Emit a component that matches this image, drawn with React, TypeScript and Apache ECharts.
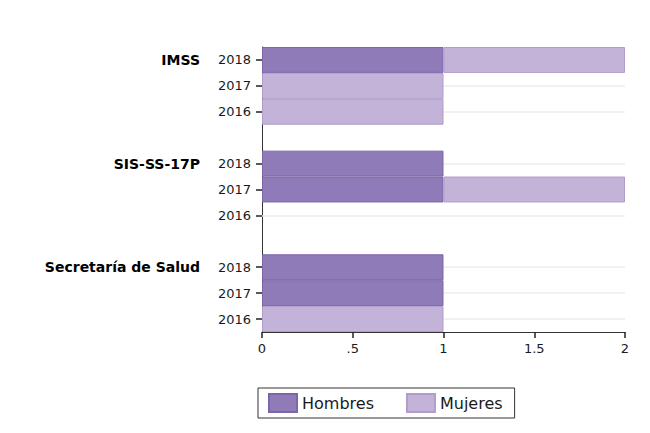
import React, { useEffect, useRef } from "react";
import * as echarts from "echarts";

const groups = ["IMSS", "SIS-SS-17P", "Secretaría de Salud"];
const years = ["2018", "2017", "2016"];
// values per group, in the order of years
const hombres = [
  [1, 0, 0],
  [1, 1, 0],
  [1, 1, 0],
];
const mujeres = [
  [1, 1, 1],
  [0, 1, 0],
  [0, 0, 1],
];
const xTicks = [0, 0.5, 1, 1.5, 2];
const xTickLabels = ["0", ".5", "1", "1.5", "2"];

export default function App() {
  const ref = useRef<HTMLDivElement>(null);
  useEffect(() => {
    if (!ref.current) return;
    const chart = echarts.init(ref.current, null, { renderer: "svg" });

    const cats: string[] = [];
    const hData: any[] = [];
    const mData: any[] = [];
    groups.forEach((g, gi) => {
      years.forEach((y, yi) => {
        cats.push(`${g}|${y}`);
        const h = hombres[gi][yi];
        const m = mujeres[gi][yi];
        hData.push(h === 0 ? "-" : h);
        mData.push(m === 0 ? "-" : m);
      });
      if (gi < groups.length - 1) {
        cats.push(`blank${gi}`);
        hData.push("-");
        mData.push("-");
      }
    });
    const labeledIdx = cats
      .map((c, i) => (c.startsWith("blank") ? -1 : i))
      .filter((i) => i >= 0);

    const font = "DejaVu Sans";
    chart.setOption({
      animation: false,
      textStyle: { fontFamily: font },
      grid: { left: 254, right: 25, top: 39, bottom: 101, containLabel: false },
      legend: {
        data: ["Hombres", "Mujeres"],
        icon: "rect",
        left: 250,
        top: 380,
        padding: [5, 12, 5, 10],
        itemWidth: 28,
        itemHeight: 18,
        itemGap: 32,
        borderColor: "#333",
        borderWidth: 1,
        textStyle: { fontSize: 16, color: "#1a1a1a", fontFamily: font },
        selectedMode: false,
      },
      xAxis: {
        type: "value",
        min: xTicks[0],
        max: xTicks[xTicks.length - 1],
        interval: 0.5,
        splitLine: { show: false },
        axisLine: { show: true, lineStyle: { color: "#333", width: 1 } },
        axisTick: { show: true, length: 6, lineStyle: { color: "#222", width: 1.5 } },
        axisLabel: {
          fontSize: 13,
          color: "#1a1a1a",
          margin: 10,
          formatter: (v: number) => {
            const i = xTicks.indexOf(v);
            return i >= 0 ? xTickLabels[i] : "";
          },
        },
      },
      yAxis: [
        {
          type: "category",
          inverse: true,
          data: cats,
          position: "left",
          axisLine: { show: true, lineStyle: { color: "#333", width: 1 } },
          axisTick: { show: false },
          splitLine: { show: false },
          axisLabel: {
            margin: 11,
            interval: 0,
            formatter: (v: string) => {
              if (v.startsWith("blank")) return "";
              const [g, y] = v.split("|");
              if (y === years[0]) return `{g|${g}}{y|${y}}`;
              return `{y|${y}}`;
            },
            rich: {
              g: { fontWeight: "bold", fontSize: 14, color: "#000", fontFamily: font },
              y: { width: 51, align: "right", fontSize: 13, color: "#1a1a1a", fontFamily: font },
            },
          },
        },
        {
          type: "category",
          inverse: true,
          data: cats,
          position: "left",
          offset: 0,
          axisLine: { show: false },
          axisLabel: { show: false },
          splitLine: { show: false },
          axisTick: {
            show: true,
            inside: false,
            length: 6,
            alignWithLabel: true,
            lineStyle: { color: "#222", width: 1.5 },
            interval: (idx: any, val: any) =>
              typeof val === "string"
                ? !val.startsWith("blank")
                : labeledIdx.indexOf(Number(idx)) >= 0,
          },
        },
      ],
      series: [
        {
          name: "grid",
          type: "line",
          data: [],
          z: 1,
          markLine: {
            z: 1,
            silent: true,
            symbol: "none",
            label: { show: false },
            lineStyle: { color: "#e8eeec", width: 1.5, type: "solid" },
            data: labeledIdx.map((i) => ({ yAxis: i })),
          },
        },
        {
          name: "Hombres",
          type: "bar",
          stack: "s",
          z: 2,
          barWidth: "100%",
          data: hData,
          itemStyle: { color: "#8f7bb7", borderColor: "#7c66ab", borderWidth: 1 },
        },
        {
          name: "Mujeres",
          type: "bar",
          stack: "s",
          z: 2,
          barWidth: "100%",
          data: mData,
          itemStyle: { color: "#c3b3d8", borderColor: "#b09dcb", borderWidth: 1 },
        },
      ],
    });
    return () => chart.dispose();
  }, []);
  return <div ref={ref} style={{ width: 642, height: 425 }} />;
}
